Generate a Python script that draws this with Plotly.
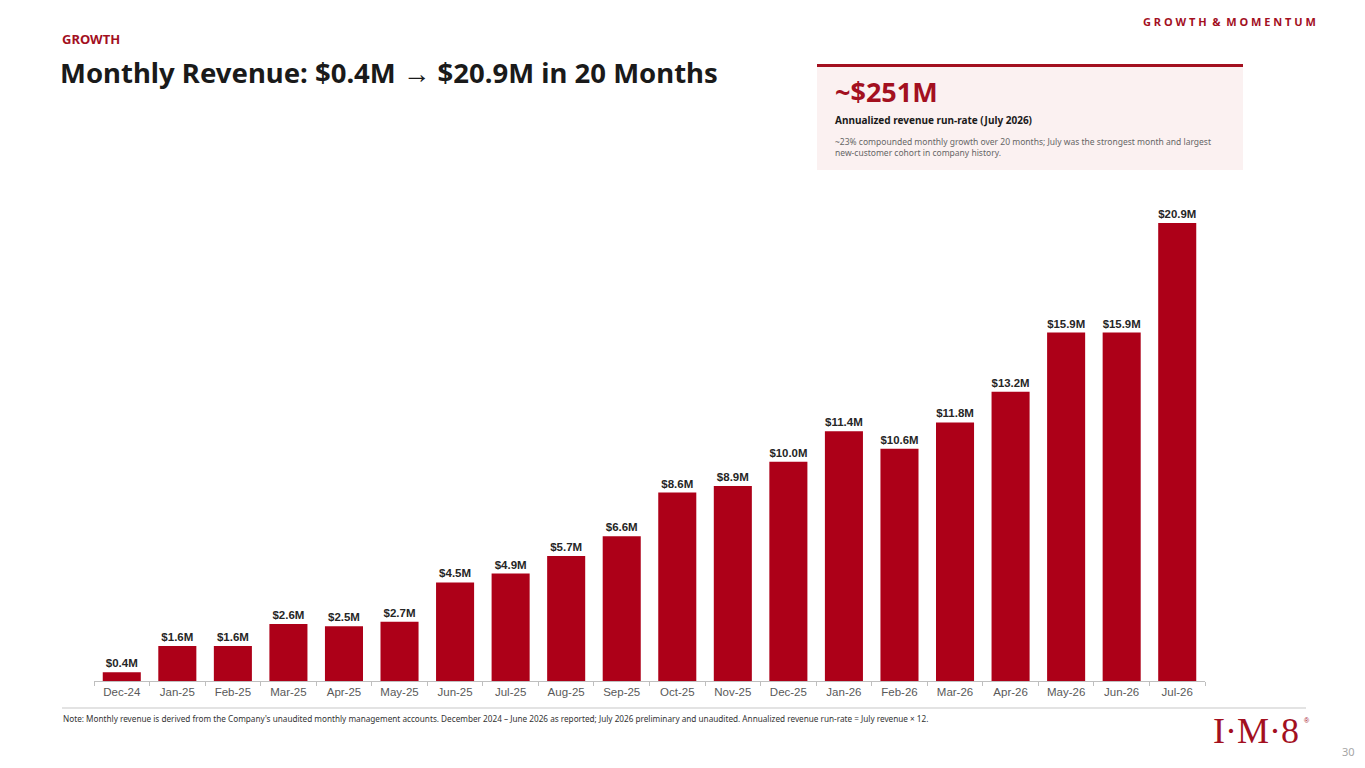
import plotly.graph_objects as go

months = ["Dec-24", "Jan-25", "Feb-25", "Mar-25", "Apr-25", "May-25", "Jun-25", "Jul-25",
          "Aug-25", "Sep-25", "Oct-25", "Nov-25", "Dec-25", "Jan-26", "Feb-26", "Mar-26",
          "Apr-26", "May-26", "Jun-26", "Jul-26"]
revenue_m = [0.4, 1.6, 1.6, 2.6, 2.5, 2.7, 4.5, 4.9, 5.7, 6.6, 8.6, 8.9, 10.0, 11.4,
             10.6, 11.8, 13.2, 15.9, 15.9, 20.9]

W, H = 1365, 768
RED = "#AD0018"
DARK_RED = "#A3101F"


def px(x):
    return x / W


def py(y):
    return 1 - y / H


fig = go.Figure()
fig.add_trace(go.Bar(
    x=months, y=revenue_m,
    marker=dict(color=RED, line=dict(width=0)),
    texttemplate="$%{y:.1f}M",
    textposition="outside",
    cliponaxis=False,
    textfont=dict(family="Liberation Sans", size=11.5, color="#262626", weight="bold"),
    hoverinfo="skip",
))

fig.update_layout(
    width=W, height=H,
    margin=dict(l=0, r=0, t=0, b=0),
    paper_bgcolor="white", plot_bgcolor="white",
    showlegend=False,
    bargap=0.315,
    xaxis=dict(
        domain=[px(94), px(1205)],
        showline=True, linecolor="#BFBFBF", linewidth=1,
        ticks="outside", ticklen=4, tickcolor="#BFBFBF", tickson="boundaries",
        tickfont=dict(family="Liberation Sans", size=11.5, color="#595959"),
        showgrid=False, zeroline=False, fixedrange=True,
    ),
    yaxis=dict(
        domain=[py(681), py(155)],
        range=[0, 24],
        visible=False, showgrid=False, zeroline=False, fixedrange=True,
    ),
)

shapes = [
    # callout box
    dict(type="rect", xref="paper", yref="paper", x0=px(817), x1=px(1243), y0=py(170), y1=py(64),
         fillcolor="#FBF1F1", line=dict(width=0), layer="below"),
    dict(type="rect", xref="paper", yref="paper", x0=px(817), x1=px(1243), y0=py(67), y1=py(64),
         fillcolor=DARK_RED, line=dict(width=0)),
    # footer separator
    dict(type="line", xref="paper", yref="paper", x0=px(62), x1=px(1306), y0=py(708), y1=py(708),
         line=dict(color="#E3E3E3", width=2)),
]

ann = []


def text(x, y, s, size, color, family="Noto Sans", weight="normal", xanchor="left", yanchor="middle"):
    ann.append(dict(xref="paper", yref="paper", x=px(x), y=py(y), text=s, showarrow=False,
                    xanchor=xanchor, yanchor=yanchor, align="left",
                    font=dict(family=family, size=size, color=color, weight=weight)))


text(60, 39, "GROWTH", 13, DARK_RED, weight="bold")
text(58, 72, "Monthly Revenue: $0.4M → $20.9M in 20 Months", 27.5, "#1A1A1A", weight="bold")
text(1318, 21, "G R O W T H  &  M O M E N T U M", 11, DARK_RED, weight="bold", xanchor="right")

text(833, 92, "~$251M", 27, DARK_RED, weight="bold")
text(833, 120, "Annualized revenue run-rate (July 2026)", 10, "#1A1A1A", weight="bold")
text(833, 147, "~23% compounded monthly growth over 20 months; July was the strongest month and largest"
     "<br>new-customer cohort in company history.", 8.5, "#666666")

text(61, 718, "Note: Monthly revenue is derived from the Company's unaudited monthly management accounts. "
     "December 2024 – June 2026 as reported; July 2026 preliminary and unaudited. "
     "Annualized revenue run-rate = July revenue × 12.", 8.2, "#333333")

text(1301, 731, "I·M·8", 36, DARK_RED, family="Liberation Serif", xanchor="right")
text(1302, 720, "®", 7, DARK_RED, family="Liberation Sans", xanchor="left")
text(1357, 751, "30", 11, "#A6A6A6", xanchor="right")

fig.update_layout(shapes=shapes, annotations=ann)
fig.write_html("out.html", config={"displayModeBar": False},
               post_script="document.body.style.margin='0';")
